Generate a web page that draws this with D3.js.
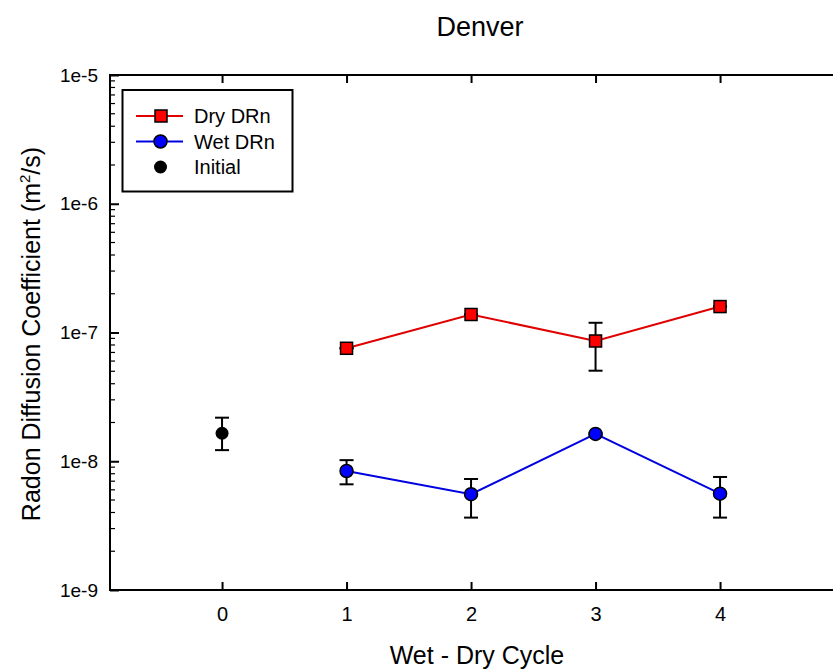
<!DOCTYPE html>
<html><head><meta charset="utf-8">
<script src="https://cdn.jsdelivr.net/npm/d3@7"></script>
<style>body{margin:0;background:#fff;} svg{display:block;font-family:"Liberation Sans",Arial,sans-serif;}</style>
</head><body>
<svg id="c" width="833" height="670"></svg>
<script>
const cycles = [1, 2, 3, 4];
const dryValues = [7.54e-8, 1.38e-7, 8.59e-8, 1.59e-7];
const dryLow   = [7.54e-8, 1.38e-7, 5.05e-8, 1.59e-7];
const dryHigh  = [7.54e-8, 1.38e-7, 1.19e-7, 1.59e-7];
const wetValues = [8.4e-9, 5.55e-9, 1.63e-8, 5.6e-9];
const wetLow   = [6.62e-9, 3.65e-9, 1.6e-8, 3.65e-9];
const wetHigh  = [1.02e-8, 7.28e-9, 1.66e-8, 7.55e-9];
const initialX = [0];
const initialValues = [1.65e-8];
const initialLow = [1.22e-8];
const initialHigh = [2.18e-8];
const xTicks = [0, 1, 2, 3, 4];
const yTicks = [1e-9, 1e-8, 1e-7, 1e-6, 1e-5];
const yTickLabels = ["1e-9", "1e-8", "1e-7", "1e-6", "1e-5"];

const svg = d3.select("#c");
const L = 110, T = 75, B = 590;
const x = d3.scaleLinear().domain([-0.9, 5.9]).range([L, L + 6.8 * 124.5]);
const y = d3.scaleLog().domain([1e-9, 1e-5]).range([B, T]);
const R = x(5.9);

// title
svg.append("text").attr("x", 480).attr("y", 36).attr("text-anchor", "middle")
  .style("font-size", "27px").text("Denver");

// axes frame
const g = svg.append("g");
g.append("rect").attr("x", L).attr("y", T).attr("width", R - L).attr("height", B - T)
  .attr("fill", "none").attr("stroke", "#000").attr("stroke-width", 2);

// x ticks bottom/top
const xAxisB = d3.axisBottom(x).tickValues(xTicks).tickSizeInner(-8).tickSizeOuter(0).tickPadding(17).tickFormat(d3.format("d"));
const gxb = g.append("g").attr("transform", `translate(0,${B})`).call(xAxisB);
gxb.attr("font-size", null).attr("font-family", null);
gxb.select(".domain").remove();
gxb.selectAll("line").attr("stroke-width", 2);
gxb.selectAll("text").style("font-size", "20px").attr("fill", "#000");
const xAxisT = d3.axisTop(x).tickValues(xTicks).tickSizeInner(-8).tickSizeOuter(0).tickFormat("");
const gxt = g.append("g").attr("transform", `translate(0,${T})`).call(xAxisT);
gxt.select(".domain").remove();
gxt.selectAll("line").attr("stroke-width", 2);

// y axis major
const yAxis = d3.axisLeft(y).tickValues(yTicks).tickSizeInner(-9).tickSizeOuter(0).tickPadding(12)
  .tickFormat((d, i) => yTickLabels[i]);
const gy = g.append("g").attr("transform", `translate(${L},0)`).call(yAxis);
gy.attr("font-size", null).attr("font-family", null);
gy.select(".domain").remove();
gy.selectAll("line").attr("stroke-width", 2);
gy.selectAll("text").style("font-size", "19px").attr("fill", "#000");
// y minor ticks
const minor = [];
for (let e = -9; e < -5; e++) for (let m = 2; m <= 9; m++) minor.push(m * Math.pow(10, e));
g.append("g").selectAll("line").data(minor).join("line")
  .attr("x1", L).attr("x2", L + 5).attr("y1", d => y(d)).attr("y2", d => y(d))
  .attr("stroke", "#000").attr("stroke-width", 1.2);

// axis titles
svg.append("text").attr("x", 477).attr("y", 664).attr("text-anchor", "middle")
  .style("font-size", "25px").text("Wet - Dry Cycle");
const yt = svg.append("text").attr("transform", "translate(40,334) rotate(-90)")
  .attr("text-anchor", "middle").style("font-size", "25px");
yt.append("tspan").text("Radon Diffusion Coefficient (m");
yt.append("tspan").style("font-size", "15px").attr("dy", -10).text("2");
yt.append("tspan").attr("dy", 10).text("/s)");

const plot = svg.append("g");
function errBars(xs, lo, hi) {
  const gg = plot.append("g").attr("stroke", "#000").attr("stroke-width", 2);
  xs.forEach((xv, i) => {
    gg.append("line").attr("x1", x(xv)).attr("x2", x(xv)).attr("y1", y(lo[i])).attr("y2", y(hi[i]));
    [lo[i], hi[i]].forEach(v => gg.append("line").attr("x1", x(xv) - 7).attr("x2", x(xv) + 7).attr("y1", y(v)).attr("y2", y(v)));
  });
}
errBars(cycles, dryLow, dryHigh);
errBars(cycles, wetLow, wetHigh);
errBars(initialX, initialLow, initialHigh);

const line = d3.line().x(d => x(d[0])).y(d => y(d[1]));
plot.append("path").datum(cycles.map((c, i) => [c, dryValues[i]])).attr("d", line)
  .attr("fill", "none").attr("stroke", "#e00000").attr("stroke-width", 2);
plot.append("path").datum(cycles.map((c, i) => [c, wetValues[i]])).attr("d", line)
  .attr("fill", "none").attr("stroke", "#0000e0").attr("stroke-width", 2);

plot.append("g").selectAll("rect").data(cycles.map((c, i) => [c, dryValues[i]])).join("rect")
  .attr("x", d => x(d[0]) - 6).attr("y", d => y(d[1]) - 6).attr("width", 12).attr("height", 12)
  .attr("fill", "#ff0000").attr("stroke", "#000").attr("stroke-width", 1.5);
plot.append("g").selectAll("circle").data(cycles.map((c, i) => [c, wetValues[i]])).join("circle")
  .attr("cx", d => x(d[0])).attr("cy", d => y(d[1])).attr("r", 6.5)
  .attr("fill", "#0000ff").attr("stroke", "#000").attr("stroke-width", 1.5);
plot.append("g").selectAll("circle").data(initialX.map((c, i) => [c, initialValues[i]])).join("circle")
  .attr("cx", d => x(d[0])).attr("cy", d => y(d[1])).attr("r", 6.5).attr("fill", "#000");

// legend
const lg = svg.append("g");
lg.append("rect").attr("x", 122.5).attr("y", 90).attr("width", 170).attr("height", 101.5)
  .attr("fill", "#fff").attr("stroke", "#000").attr("stroke-width", 2);
const items = [
  {label: "Dry DRn", color: "#e00000", shape: "square", fill: "#ff0000", line: true},
  {label: "Wet DRn", color: "#0000e0", shape: "circle", fill: "#0000ff", line: true},
  {label: "Initial", color: "#000", shape: "circle", fill: "#000", line: false}
];
items.forEach((it, i) => {
  const cy = 116 + i * 25.5;
  if (it.line) lg.append("line").attr("x1", 136).attr("x2", 183).attr("y1", cy).attr("y2", cy)
    .attr("stroke", it.color).attr("stroke-width", 2);
  if (it.shape === "square") lg.append("rect").attr("x", 155).attr("y", cy - 6).attr("width", 12).attr("height", 12)
    .attr("fill", it.fill).attr("stroke", "#000").attr("stroke-width", 1.5);
  else lg.append("circle").attr("cx", 160.5).attr("cy", cy).attr("r", 6.5).attr("fill", it.fill)
    .attr("stroke", it.line ? "#000" : "none").attr("stroke-width", 1.5);
  lg.append("text").attr("x", 194).attr("y", cy + 7).style("font-size", "20px").text(it.label);
});
</script>
</body></html>
